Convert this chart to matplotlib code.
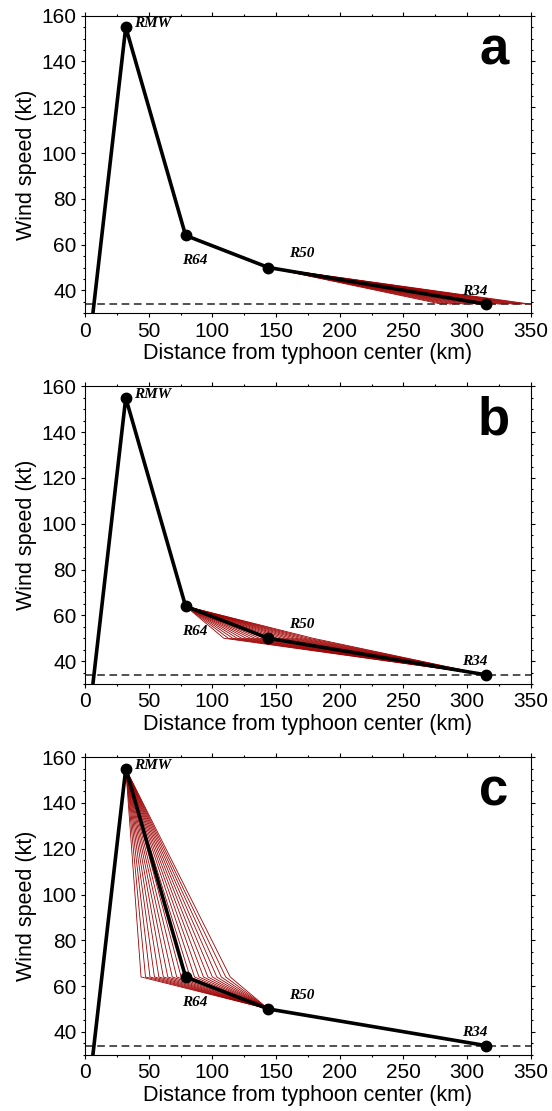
import matplotlib
matplotlib.use('Agg')
import matplotlib.pyplot as plt
from matplotlib.ticker import MultipleLocator

# ---- data ----
radii_km = [0, 32, 79, 144, 315]          # origin, RMW, R64, R50, R34
speeds_kt = [0, 155, 64, 50, 34]
point_names = ['RMW', 'R64', 'R50', 'R34']
label_x = [53, 86, 170, 306]
label_y = [156.5, 53, 56, 39.7]
threshold_kt = 34
# offsets (km) applied to the perturbed radius in each panel
offsets_km = [-35, -31.5, -28, -24.5, -21, -17.5, -14, -10.5, -7, -3.5, 0,
              3.5, 7, 10.5, 14, 17.5, 21, 24.5, 28, 31.5, 35]
panel_letters = ['a', 'b', 'c']
perturbed_index = [4, 3, 2]   # a: R34, b: R50, c: R64

plt.rcParams['font.family'] = ['Liberation Sans', 'DejaVu Sans']

fig = plt.figure(figsize=(5.52, 11.11), dpi=100)
left, width, height = 0.154, 0.8074, 0.2679
bottoms = [0.718, 0.3843, 0.0506]

red = '#9E0000'
for letter, idx, bot in zip(panel_letters, perturbed_index, bottoms):
    ax = fig.add_axes([left, bot, width, height])
    # perturbation fan
    for off in offsets_km:
        xs = [radii_km[idx - 1], radii_km[idx] + off]
        ys = [speeds_kt[idx - 1], speeds_kt[idx]]
        if idx + 1 < len(radii_km):
            xs.append(radii_km[idx + 1])
            ys.append(speeds_kt[idx + 1])
        ax.plot(xs, ys, color=red, lw=0.6, zorder=2, solid_joinstyle='miter')
    ax.axhline(threshold_kt, color='#222222', lw=1.1, ls=(0, (5, 3)), zorder=1)
    ax.plot(radii_km, speeds_kt, color='black', lw=2.6, zorder=3,
            solid_joinstyle='round')
    ax.plot(radii_km[1:], speeds_kt[1:], 'o', color='black', ms=7.5, zorder=4)
    for name, tx, ty in zip(point_names, label_x, label_y):
        ax.text(tx, ty, name, family=['Liberation Serif', 'DejaVu Serif'],
                style='italic', weight='bold', fontsize=11, ha='center',
                va='center', zorder=5)
    ax.text(321, 145, letter, fontsize=38, weight='bold', ha='center',
            va='center', zorder=5)
    ax.set_xlim(0, 350)
    ax.set_ylim(30, 160)
    ax.xaxis.set_major_locator(MultipleLocator(50))
    ax.xaxis.set_minor_locator(MultipleLocator(25))
    ax.yaxis.set_major_locator(MultipleLocator(20))
    ax.yaxis.set_minor_locator(MultipleLocator(5))
    ax.tick_params(which='both', direction='out', top=True, right=True,
                   width=0.8, labelsize=15, pad=3.0)
    ax.tick_params(which='major', length=3)
    ax.tick_params(which='minor', length=1.6)
    ax.set_yticks([40, 60, 80, 100, 120, 140, 160])
    for sp in ax.spines.values():
        sp.set_linewidth(0.8)
    ax.set_xlabel('Distance from typhoon center (km)', fontsize=15.5, labelpad=2)
    ax.set_ylabel('Wind speed (kt)', fontsize=15.5, labelpad=3)

fig.savefig('out.png', dpi=100)
